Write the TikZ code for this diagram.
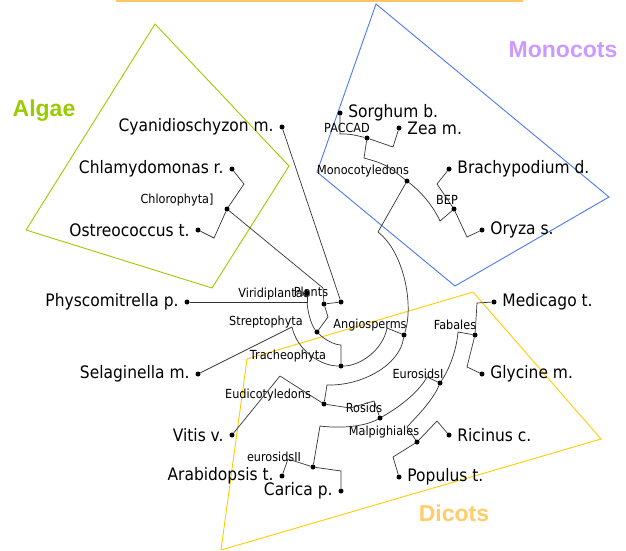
\documentclass[tikz,border=0pt]{standalone}
\usepackage{fontspec}
\setmainfont{DejaVu Sans}[FakeStretch=0.9]
\newfontfamily\groupfont{Liberation Sans}
\usetikzlibrary{positioning}
\definecolor{algaegreen}{HTML}{99CC00}
\definecolor{monoblue}{HTML}{4D79F0}
\definecolor{dicotyellow}{HTML}{FFCC00}
\definecolor{monopurple}{HTML}{CC99FF}
\definecolor{dicotorange}{HTML}{FFCC66}
\definecolor{topline}{HTML}{FFC566}

\tikzset{
  leafdot/.style={circle, fill=black, inner sep=0pt, minimum size=5pt},
  cladedot/.style={circle, fill=black, inner sep=0pt, minimum size=5pt},
  branch/.style={draw=black!80, line width=0.7pt},
  leafname/.style={font=\fontsize{17.2}{20}\selectfont, inner sep=0pt},
  cladename/.style={font=\fontsize{12.5}{14}\selectfont, inner sep=0pt},
  groupname/.style={font=\groupfont\bfseries\fontsize{23}{27}\selectfont, inner sep=0pt},
  groupbox/.style={line width=0.9pt, line join=miter}
}

\begin{document}
\begin{tikzpicture}[x=1pt, y=-1pt, label distance=5.5pt]
  \useasboundingbox (0,0) rectangle (626,550);

  % group outlines
  \draw[topline, line width=1.6pt] (116,0.8) -- (523,0.8);
  \draw[groupbox, algaegreen] (155,24) -- (289,166) -- (212,288) -- (26,230) -- cycle;
  \draw[groupbox, monoblue] (376,4) -- (609,197) -- (455,286) -- (317,172) -- cycle;
  \draw[groupbox, dicotyellow] (247,359) -- (473,292) -- (601,439) -- (221,550) -- cycle;

  \node[groupname, algaegreen] (algae) at (44,111) {Algae};
  \node[groupname, monopurple] (monocots) at (563,50) {Monocots};
  \node[groupname, dicotorange] (dicots) at (454,513) {Dicots};

  % leaves
  \node[leafdot, label={[leafname]left:Cyanidioschyzon m.}] (cya) at (282,127) {};
  \node[leafdot, label={[leafname]left:Chlamydomonas r.}] (chl) at (232,169) {};
  \node[leafdot, label={[leafname]left:Ostreococcus t.}] (ost) at (198,230) {};
  \node[leafdot, label={[leafname]left:Physcomitrella p.}] (phy) at (187,302) {};
  \node[leafdot, label={[leafname]left:Selaginella m.}] (sel) at (198,374) {};
  \node[leafdot, label={[leafname]left:Vitis v.}] (vit) at (232,435) {};
  \node[leafdot, label={[leafname]left:Arabidopsis t.}] (ara) at (282,476) {};
  \node[leafdot, label={[leafname]left:Carica p.}] (car) at (341,491) {};
  \node[leafdot, label={[leafname]right:Sorghum b.}] (sor) at (340,113) {};
  \node[leafdot, label={[leafname]right:Zea m.}] (zea) at (399,128) {};
  \node[leafdot, label={[leafname]right:Brachypodium d.}] (bra) at (449,169) {};
  \node[leafdot, label={[leafname]right:Oryza s.}] (ory) at (482,230) {};
  \node[leafdot, label={[leafname]right:Medicago t.}] (med) at (494,302) {};
  \node[leafdot, label={[leafname]right:Glycine m.}] (gly) at (482,374) {};
  \node[leafdot, label={[leafname]right:Ricinus c.}] (ric) at (449,435) {};
  \node[leafdot, label={[leafname]right:Populus t.}] (pop) at (399,477) {};

  % inner nodes
  \node[cladedot] (chloro) at (227,209) {};
  \node[cladedot] (paccad) at (367,138) {};
  \node[cladedot] (monocot) at (407,181) {};
  \node[cladedot] (bep) at (454,209) {};
  \node[cladedot] (plantsjoin) at (341,302) {};
  \node[cladedot] (plants) at (324,304) {};
  \node[cladedot] (viridi) at (307,293) {};
  \node[cladedot] (strepto) at (317,332) {};
  \node[cladedot] (tracheo) at (341,366) {};
  \node[cladedot] (angio) at (404,335) {};
  \node[cladedot] (eudico) at (324,404) {};
  \node[cladedot] (rosids) at (380,418) {};
  \node[cladedot] (eurI) at (440,383) {};
  \node[cladedot] (fabales) at (475,335) {};
  \node[cladedot] (malpig) at (417,442) {};
  \node[cladedot] (eurII) at (313,467) {};

  % clade names
  \node[cladename] (chlorotext) at (177,200) {Chlorophyta]};
  \node[cladename] (paccadtext) at (347,128) {PACCAD};
  \node[cladename] (monotext) at (363,171) {Monocotyledons};
  \node[cladename] (beptext) at (447,200) {BEP};
  \node[cladename] (viriditext) at (274,294) {Viridiplantae};
  \node[cladename] (plantstext) at (311,292) {Plants};
  \node[cladename] (streptotext) at (266,322) {Streptophyta};
  \node[cladename] (angiotext) at (370,325) {Angiosperms};
  \node[cladename] (tracheotext) at (288,356) {Tracheophyta};
  \node[cladename] (eudicotext) at (268,395) {Eudicotyledons};
  \node[cladename] (rosidstext) at (364,408) {Rosids};
  \node[cladename] (fabalestext) at (455,325) {Fabales};
  \node[cladename] (eurItext) at (418,374) {EurosidsI};
  \node[cladename] (malpigtext) at (384,432) {Malpighiales};
  \node[cladename] (eurIItext) at (274,457) {eurosidsII};

  % branches
  \draw[branch] (cya) -- (plantsjoin);
  \draw[branch] (plantsjoin) -- (plants);
  \draw[branch] (chloro) -- (323,288) -- (plants);
  \draw[branch] (chl) -- (244,184) -- (chloro);
  \draw[branch] (ost) -- (214,238) -- (chloro);
  \draw[branch] (plants) -- (328,317) -- (strepto);
  \draw[branch] (phy) -- (307,302) -- (viridi);
  \draw[branch] (307,302) .. controls (308,315) and (312,326) .. (strepto);
  \draw[branch] (sel) -- (292,327) .. controls (297,350) and (320,366) .. (tracheo);
  \draw[branch] (strepto) .. controls (325,340) and (335,345) .. (341,345) -- (tracheo);
  \draw[branch] (tracheo) .. controls (360,366) and (383,350) .. (387,328) -- (angio);
  \draw[branch] (monocot) -- (378,232) .. controls (404,252) and (414,305) .. (angio);
  \draw[branch] (angio) .. controls (400,365) and (362,386) .. (327,385) -- (eudico);
  \draw[branch] (vit) -- (280,376) -- (eudico);
  \draw[branch] (eudico) -- (350,408) -- (374,401) -- (rosids);
  \draw[branch] (rosids) .. controls (403,405) and (420,390) .. (427,377) -- (eurI);
  \draw[branch] (eurI) .. controls (452,365) and (457,345) .. (458,332) -- (fabales);
  \draw[branch] (fabales) -- (477,303) -- (med);
  \draw[branch] (fabales) -- (467,367) -- (gly);
  \draw[branch] (eurI) .. controls (432,402) and (415,418) .. (407,427) -- (malpig);
  \draw[branch] (malpig) -- (437,421) -- (ric);
  \draw[branch] (malpig) -- (393,457) -- (pop);
  \draw[branch] (rosids) .. controls (362,428) and (335,428) .. (320,426) -- (eurII);
  \draw[branch] (eurII) -- (341,471) -- (car);
  \draw[branch] (eurII) -- (288,459) -- (ara);
  \draw[branch] (sor) -- (340,134) .. controls (350,134) .. (paccad);
  \draw[branch] (zea) -- (393,147) -- (paccad);
  \draw[branch] (paccad) -- (364,158) .. controls (385,164) .. (monocot);
  \draw[branch] (monocot) .. controls (425,195) and (435,210) .. (440,221) -- (bep);
  \draw[branch] (bep) -- (437,184) -- (bra);
  \draw[branch] (bep) -- (467,237) -- (ory);
\end{tikzpicture}
\end{document}
